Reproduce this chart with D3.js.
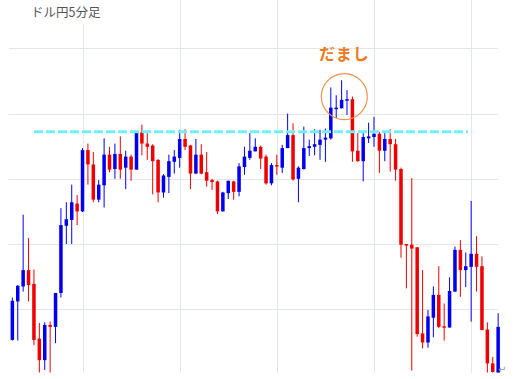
<!DOCTYPE html>
<html>
<head>
<meta charset="utf-8">
<script src="https://cdn.jsdelivr.net/npm/d3@7/dist/d3.min.js"></script>
<style>
html,body{margin:0;padding:0;background:#fff;}
svg{display:block;}
</style>
</head>
<body>
<svg id="chart" width="523" height="379"></svg>
<script>
// ---- data ----
const title = "ドル円5分足";
const annotation = "だまし";
const startTime = "08:55";
const tickLabels = ["10:00", "11:30", "13:00", "14:30", "16:00"];
const priceTicks = [110.1, 110.2, 110.3, 110.4, 110.5];
const resistance = 110.372;
const circlePrice = 110.426;
const open  = [110.053,110.112,110.135,110.160,110.139,110.055,110.022,110.076,110.073,110.125,110.228,110.237,110.262,110.250,110.344,110.322,110.268,110.290,110.337,110.315,110.338,110.317,110.334,110.314,110.371,110.354,110.351,110.329,110.279,110.303,110.326,110.332,110.361,110.351,110.308,110.337,110.310,110.298,110.296,110.250,110.278,110.296,110.280,110.318,110.332,110.342,110.349,110.334,110.293,110.321,110.317,110.347,110.367,110.300,110.315,110.347,110.349,110.352,110.360,110.362,110.407,110.408,110.420,110.422,110.343,110.327,110.362,110.364,110.369,110.343,110.361,110.353,110.315,110.200,110.199,110.195,110.063,110.049,110.087,110.122,110.074,110.072,110.127,110.191,110.160,110.165,110.185,110.166,110.069,110.017,110.003];
const high  = [110.118,110.137,110.245,110.209,110.161,110.079,110.080,110.081,110.125,110.255,110.264,110.291,110.275,110.347,110.354,110.341,110.298,110.362,110.349,110.354,110.365,110.343,110.337,110.373,110.383,110.370,110.353,110.330,110.307,110.337,110.344,110.375,110.376,110.352,110.361,110.353,110.341,110.300,110.297,110.280,110.297,110.297,110.324,110.349,110.370,110.362,110.351,110.337,110.324,110.337,110.352,110.400,110.385,110.319,110.380,110.360,110.376,110.375,110.377,110.440,110.428,110.451,110.436,110.426,110.370,110.371,110.386,110.395,110.372,110.372,110.376,110.361,110.317,110.200,110.301,110.195,110.160,110.099,110.135,110.166,110.109,110.149,110.196,110.206,110.187,110.266,110.212,110.181,110.080,110.027,110.094];
const low   = [110.052,110.052,110.127,110.112,110.045,110.003,110.007,110.003,110.048,110.118,110.200,110.200,110.229,110.249,110.291,110.264,110.264,110.256,110.310,110.300,110.300,110.284,110.297,110.314,110.336,110.329,110.276,110.264,110.271,110.278,110.308,110.317,110.344,110.284,110.307,110.307,110.288,110.283,110.246,110.250,110.269,110.268,110.273,110.306,110.329,110.342,110.315,110.291,110.290,110.306,110.309,110.347,110.297,110.264,110.314,110.335,110.336,110.329,110.326,110.360,110.393,110.408,110.398,110.326,110.326,110.296,110.355,110.349,110.309,110.327,110.311,110.297,110.179,110.132,110.006,110.058,110.040,110.041,110.057,110.071,110.052,110.072,110.127,110.119,110.134,110.081,110.127,110.068,110.003,110.003,110.003];
const close = [110.113,110.136,110.160,110.137,110.053,110.022,110.076,110.073,110.125,110.229,110.238,110.264,110.250,110.344,110.322,110.268,110.291,110.337,110.314,110.338,110.314,110.334,110.314,110.371,110.354,110.349,110.327,110.279,110.305,110.327,110.334,110.361,110.349,110.308,110.337,110.308,110.297,110.295,110.250,110.279,110.297,110.280,110.319,110.334,110.343,110.349,110.331,110.293,110.321,110.319,110.347,110.367,110.299,110.317,110.347,110.350,110.353,110.360,110.363,110.409,110.409,110.421,110.422,110.342,110.327,110.364,110.365,110.369,110.343,110.361,110.353,110.314,110.199,110.198,110.193,110.062,110.049,110.089,110.122,110.073,110.072,110.128,110.191,110.160,110.166,110.185,110.165,110.068,110.017,110.004,110.073];
// annotation targets: the false-breakout candles
const fakeFrom = 61, fakeTo = 62;

// ---- build ----
function addMin(t, m) {
  const [h, mm] = t.split(":").map(Number);
  const tot = h * 60 + mm + m;
  return String(Math.floor(tot / 60)).padStart(2, "0") + ":" + String(tot % 60).padStart(2, "0");
}
const times = open.map((_, i) => addMin(startTime, i * 5));
const candles = times.map((t, i) => ({ t, o: open[i], h: high[i], l: low[i], c: close[i] }));

const W = 523, H = 379;
const svg = d3.select("#chart");

const x = d3.scaleBand().domain(times).range([10.6, 499.9]).paddingInner(0.35).paddingOuter(0);
const cx = t => x(t) + x.bandwidth() / 2;
const y = d3.scaleLinear().domain([110.0, 110.5]).range([374.5, 48.3]);

svg.append("defs").append("clipPath").attr("id", "plot")
  .append("rect").attr("x", 0).attr("y", 0).attr("width", W).attr("height", 373);

// gridlines
const grid = svg.append("g");
grid.selectAll("line.h").data(priceTicks).join("line")
  .attr("x1", 9).attr("x2", 498)
  .attr("y1", d => Math.round(y(d)) + 0.5).attr("y2", d => Math.round(y(d)) + 0.5)
  .attr("stroke", "#e2e7ec").attr("stroke-width", 1);
grid.selectAll("line.v").data(tickLabels).join("line")
  .attr("x1", d => Math.round(cx(d)) + 0.5).attr("x2", d => Math.round(cx(d)) + 0.5)
  .attr("y1", 0).attr("y2", 373)
  .attr("stroke", "#e2e7ec").attr("stroke-width", 1);

// title box
svg.append("rect").attr("x", 0).attr("y", 0).attr("width", 108).attr("height", 24).attr("fill", "#fff");
svg.append("text").attr("x", 31).attr("y", 17)
  .attr("font-family", "'Noto Sans CJK JP', 'Noto Sans', sans-serif")
  .attr("font-size", 12.5).attr("fill", "#555").text(title);

// candles
const cg = svg.append("g").attr("clip-path", "url(#plot)");
const g = cg.selectAll("g.c").data(candles).join("g");
g.append("line")
  .attr("x1", d => cx(d.t)).attr("x2", d => cx(d.t))
  .attr("y1", d => y(d.h)).attr("y2", d => y(d.l))
  .attr("stroke", d => d.c >= d.o ? "#0000ee" : "#ee0000").attr("stroke-width", 1);
g.append("rect")
  .attr("x", d => x(d.t)).attr("width", x.bandwidth())
  .attr("y", d => y(Math.max(d.o, d.c)))
  .attr("height", d => Math.max(1.5, Math.abs(y(d.o) - y(d.c))))
  .attr("fill", d => d.c >= d.o ? "#0000ee" : "#ee0000");

// resistance dashed line
svg.append("line")
  .attr("x1", 34).attr("x2", 468)
  .attr("y1", y(resistance)).attr("y2", y(resistance))
  .attr("stroke", "#6ff0f8").attr("stroke-width", 3)
  .attr("stroke-dasharray", "9 3");

// circle around false breakout
const ccx = (cx(times[fakeFrom]) + cx(times[fakeTo])) / 2;
const ccy = y(circlePrice);
svg.append("ellipse").attr("cx", ccx).attr("cy", ccy).attr("rx", 23).attr("ry", 23)
  .attr("fill", "none").attr("stroke", "#f0924a").attr("stroke-width", 1.2);

svg.append("text").attr("x", ccx).attr("y", 60).attr("text-anchor", "middle")
  .attr("font-family", "'Noto Sans CJK JP', sans-serif").attr("font-weight", "bold")
  .attr("font-size", 16).attr("fill", "#f07a22").attr("letter-spacing", 1).text(annotation);

// return mark
svg.append("text").attr("x", 498).attr("y", 373)
  .attr("font-family", "'DejaVu Sans', sans-serif").attr("font-size", 10)
  .attr("fill", "#999").text("↵");
</script>
</body>
</html>
